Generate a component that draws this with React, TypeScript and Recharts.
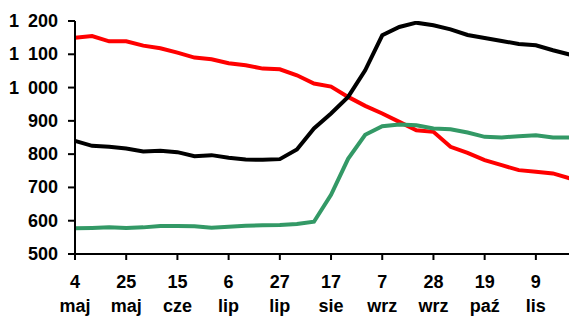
import React from 'react';
import { LineChart, Line, XAxis, YAxis } from 'recharts';

const weeks = [
  '4 maj', '11 maj', '18 maj', '25 maj', '1 cze', '8 cze', '15 cze', '22 cze', '29 cze', '6 lip',
  '13 lip', '20 lip', '27 lip', '3 sie', '10 sie', '17 sie', '24 sie', '31 sie', '7 wrz', '14 wrz',
  '21 wrz', '28 wrz', '5 paź', '12 paź', '19 paź', '26 paź', '2 lis', '9 lis', '16 lis', '23 lis',
];

const red = [
  1150, 1155, 1139, 1139, 1126, 1118, 1105, 1090, 1085, 1073,
  1067, 1057, 1055, 1037, 1012, 1003, 972, 945, 922, 897,
  872, 867, 822, 804, 782, 767, 752, 747, 742, 727,
];

const black = [
  840, 825, 822, 817, 808, 810, 806, 794, 797, 789,
  784, 783, 785, 814, 877, 922, 972, 1052, 1157, 1182,
  1195, 1187, 1175, 1158, 1149, 1140, 1131, 1127, 1112, 1099,
];

const green = [
  577, 578, 580, 578, 580, 584, 584, 583, 579, 582,
  585, 586, 587, 590, 597, 678, 786, 858, 884, 889,
  887, 877, 875, 865, 852, 850, 854, 857, 850, 850,
];

const yTicks = [500, 600, 700, 800, 900, 1000, 1100, 1200];

const data = weeks.map((week, i) => ({ week, red: red[i], black: black[i], green: green[i] }));

const font = '"Liberation Sans", Arial, sans-serif';

const DateTick = (props: any) => {
  const { x, y, payload } = props;
  const [day, month] = String(payload.value).split(' ');
  return (
    <text x={x} y={y} textAnchor="middle" fontFamily={font} fontWeight="bold" fontSize={18} fill="#000">
      <tspan x={x} dy={26}>{day}</tspan>
      <tspan x={x} dy={24}>{month}</tspan>
    </text>
  );
};

// thousands separated by a gap, like "1 200"
const ValueTick = (props: any) => {
  const { x, y, payload } = props;
  const n = payload.value as number;
  const common = { y, dy: 6, textAnchor: 'end' as const, fontFamily: font, fontWeight: 'bold', fontSize: 18, fill: '#000' };
  if (n < 1000) return <text x={x} {...common}>{n}</text>;
  const rest = String(n % 1000).padStart(3, '0');
  return (
    <g>
      <text x={x} {...common}>{rest}</text>
      <text x={x - 39} {...common}>{Math.floor(n / 1000)}</text>
    </g>
  );
};

export default function App() {
  return (
    <div style={{ position: 'absolute', left: 0, top: 0, width: 569, height: 317, overflow: 'hidden', background: '#fff' }}>
      <LineChart width={570} height={317} data={data} margin={{ top: 21, right: 0, bottom: 0, left: 0 }}>
        <XAxis
          dataKey="week"
          scale="point"
          interval={2}
          tick={<DateTick />}
          tickSize={6}
          tickMargin={2}
          height={63}
          axisLine={{ stroke: '#000', strokeWidth: 2 }}
          tickLine={{ stroke: '#000', strokeWidth: 2 }}
        />
        <YAxis
          domain={[500, 1200]}
          ticks={yTicks}
          width={75}
          tickSize={7}
          tickMargin={10}
          allowDataOverflow
          axisLine={{ stroke: '#000', strokeWidth: 2 }}
          tickLine={{ stroke: '#000', strokeWidth: 2 }}
          tick={<ValueTick />}
        />
        <Line dataKey="red" stroke="#ff0000" strokeWidth={4} dot={false} isAnimationActive={false} />
        <Line dataKey="green" stroke="#339966" strokeWidth={4} dot={false} isAnimationActive={false} />
        <Line dataKey="black" stroke="#000000" strokeWidth={4} dot={false} isAnimationActive={false} />
      </LineChart>
    </div>
  );
}
